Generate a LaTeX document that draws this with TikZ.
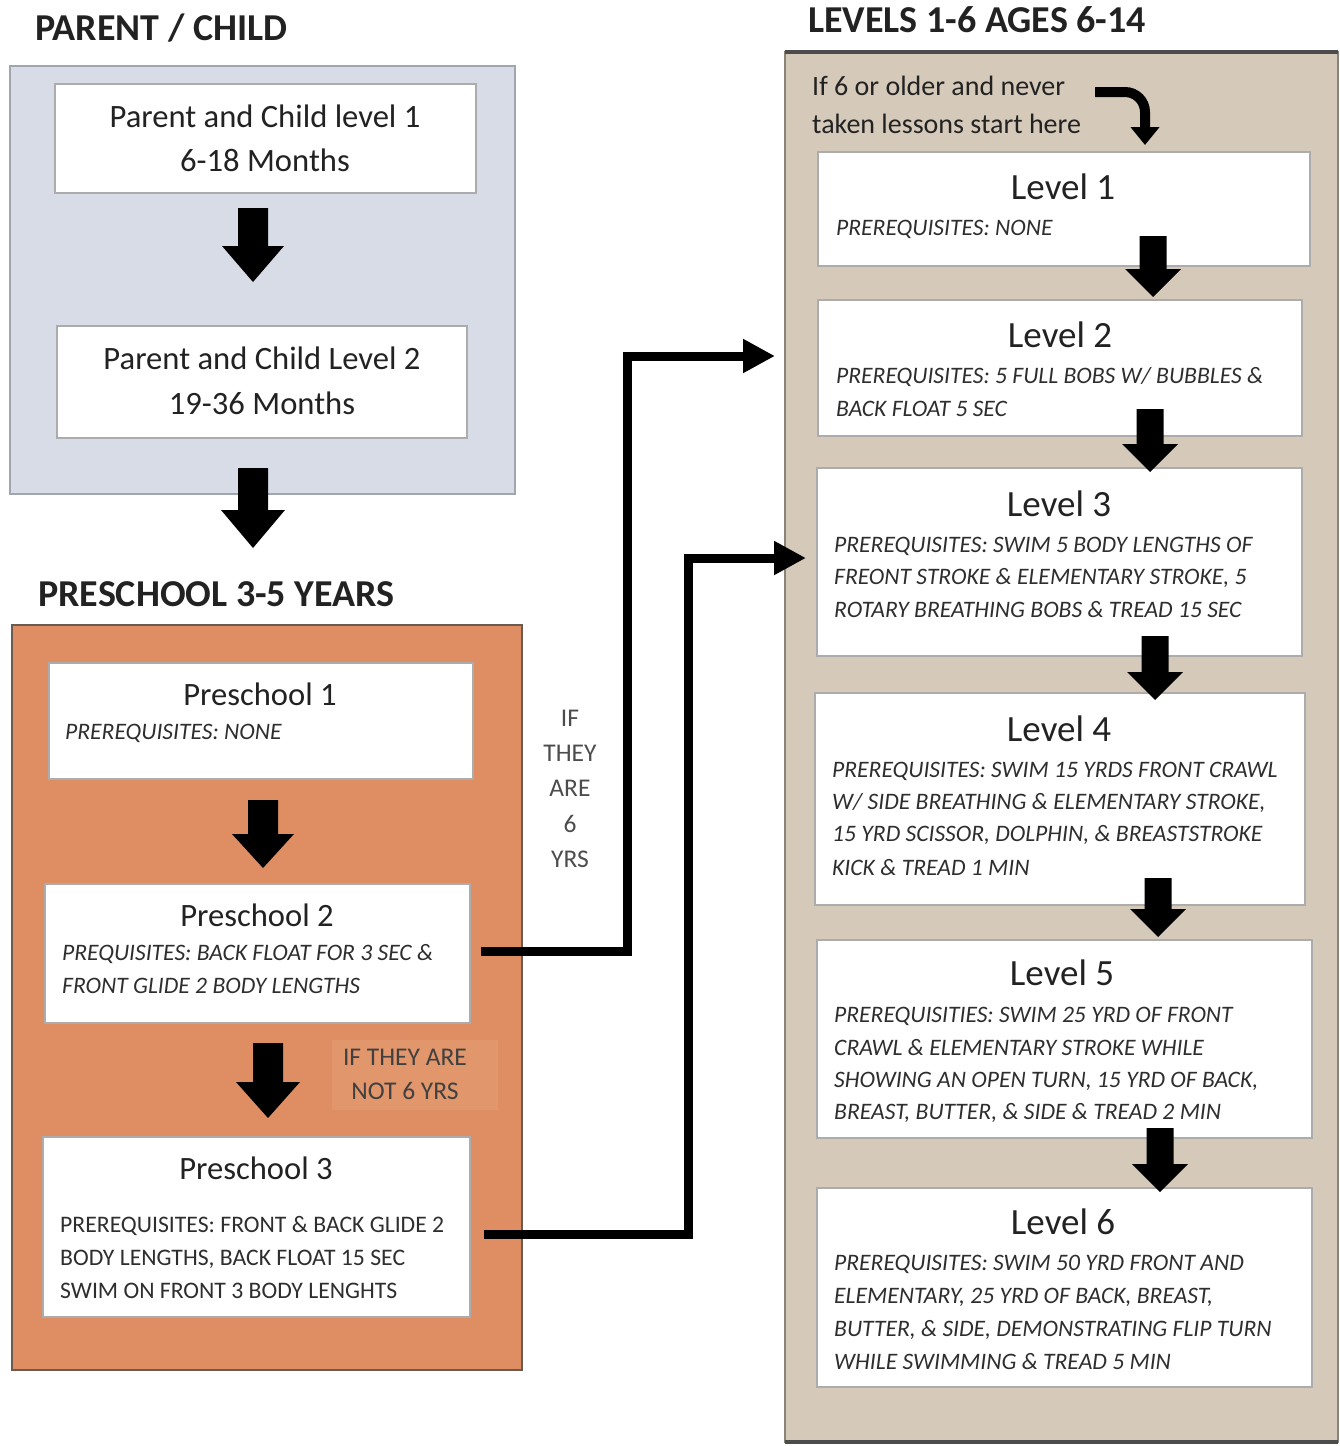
\documentclass[tikz,border=0pt]{standalone}
\usepackage{fontspec}
\setmainfont{Carlito}
\usetikzlibrary{arrows.meta}
\definecolor{pcfill}{HTML}{D8DCE6}
\definecolor{pcdraw}{HTML}{A0A5AF}
\definecolor{psfill}{HTML}{DE8E62}
\definecolor{pslight}{HTML}{E2966B}
\definecolor{psdraw}{HTML}{6B5A50}
\definecolor{lvfill}{HTML}{D5CABA}
\definecolor{lvdraw}{HTML}{8A8478}
\definecolor{txt}{HTML}{222222}
\definecolor{pretxt}{HTML}{2E2E2E}
\newcommand{\blockdown}[6]{%
  \fill[black] (#1-#4/2,#2) -- (#1+#4/2,#2) -- (#1+#4/2,#3-#6) -- (#1+#5/2,#3-#6)
    -- (#1,#3) -- (#1-#5/2,#3-#6) -- (#1-#4/2,#3-#6) -- cycle;}
\begin{document}
\begin{tikzpicture}[x=1pt,y=-1pt,
  wbox/.style={draw=gray!65, fill=white, line width=1.2pt, inner sep=0pt, rectangle},
  titletxt/.style={anchor=west, font=\fontsize{38}{42}\selectfont\bfseries, text=txt, inner sep=0pt},
  headtxt/.style={font=\fontsize{32.6}{36}\selectfont, text=txt, inner sep=0pt},
  lvhead/.style={font=\fontsize{37}{40}\selectfont, text=txt, inner sep=0pt},
  pretxt/.style={anchor=west, font=\fontsize{23.6}{26}\selectfont\itshape, text=pretxt, inner sep=0pt},
  regtxt/.style={anchor=west, font=\fontsize{23.7}{26}\selectfont, text=pretxt, inner sep=0pt},
  conn/.style={line width=9pt, -{Triangle[length=32pt,width=32pt]}},
  lbl/.style={font=\fontsize{25.5}{28}\selectfont, text=black!70, inner sep=0pt}
]
\useasboundingbox (0,0) rectangle (1340,1446);
\fill[white] (0,0) rectangle (1340,1446);

% ---------- group backgrounds ----------
\node[titletxt] (tpc) at (35,28) {PARENT / CHILD};
\draw[pcdraw, fill=pcfill, line width=1.5pt] (10,66) rectangle (515,494);
\node[titletxt] (tps) at (38,594) {PRESCHOOL 3-5 YEARS};
\draw[psdraw, fill=psfill, line width=2pt] (12,625) rectangle (522,1370);
\fill[pslight] (332,1040) rectangle (498,1110);
\node[titletxt] (tlv) at (808,20) {LEVELS 1-6 AGES 6-14};
\draw[lvdraw, fill=lvfill, line width=2pt] (785,52) rectangle (1338,1442);
\draw[black!70, line width=4pt] (785,52) -- (1338,52);
\draw[black!70, line width=4pt] (785,1442) -- (1338,1442);

% ---------- Parent / Child ----------
\node[wbox, minimum width=421pt, minimum height=109pt] (pc1) at (265.5,138.5) {};
\node[headtxt] (pc1a) at (265,116) {Parent and Child level 1};
\node[headtxt] (pc1b) at (265,160) {6-18 Months};
\node[wbox, minimum width=410pt, minimum height=112pt] (pc2) at (262,382) {};
\node[headtxt] (pc2a) at (262,358) {Parent and Child Level 2};
\node[headtxt] (pc2b) at (262,403) {19-36 Months};
\blockdown{253}{208}{282}{30}{62}{36}
\blockdown{253}{468}{548}{30}{64}{38}

% ---------- Preschool ----------
\node[wbox, minimum width=424pt, minimum height=116pt] (ps1) at (261,721) {};
\node[headtxt] (ps1h) at (260,694) {Preschool 1};
\node[pretxt] (ps1p) at (65,733) {PREREQUISITES: NONE};

\node[wbox, minimum width=425pt, minimum height=139pt] (ps2) at (257.5,953.5) {};
\node[headtxt] (ps2h) at (257,915) {Preschool 2};
\node[pretxt] (ps2p1) at (62,954) {PREQUISITES: BACK FLOAT FOR 3 SEC \&};
\node[pretxt] (ps2p2) at (62,986) {FRONT GLIDE 2 BODY LENGTHS};

\node[wbox, minimum width=427pt, minimum height=180pt] (ps3) at (256.5,1227) {};
\node[headtxt] (ps3h) at (256,1168) {Preschool 3};
\node[regtxt] (ps3p1) at (60,1226) {PREREQUISITES: FRONT \& BACK GLIDE 2};
\node[regtxt] (ps3p2) at (60,1259) {BODY LENGTHS, BACK FLOAT 15 SEC};
\node[regtxt] (ps3p3) at (60,1291) {SWIM ON FRONT 3 BODY LENGHTS};

\blockdown{263}{800}{868}{30}{62}{34}
\blockdown{268}{1043}{1118}{30}{64}{36}
\node[lbl, text=black!75] (not6a) at (405,1057) {IF THEY ARE};
\node[lbl, text=black!75] (not6b) at (405,1091) {NOT 6 YRS};

% ---------- Levels ----------
\node[regtxt, font=\fontsize{28}{30}\selectfont, text=txt] (start1) at (812,86) {If 6 or older and never};
\node[regtxt, font=\fontsize{28}{30}\selectfont, text=txt] (start2) at (812,124) {taken lessons start here};

\node[wbox, minimum width=492pt, minimum height=114pt] (l1) at (1064,209) {};
\node[lvhead] (l1h) at (1063,187) {Level 1};
\node[pretxt] (l1p) at (836,229) {PREREQUISITES: NONE};

\node[wbox, minimum width=484pt, minimum height=136pt] (l2) at (1060,368) {};
\node[lvhead] (l2h) at (1060,335) {Level 2};
\node[pretxt] (l2p1) at (836,377) {PREREQUISITES: 5 FULL BOBS W/ BUBBLES \&};
\node[pretxt] (l2p2) at (836,409) {BACK FLOAT 5 SEC};

\node[wbox, minimum width=485pt, minimum height=188pt] (l3) at (1059.5,562) {};
\node[lvhead] (l3h) at (1059,504) {Level 3};
\node[pretxt] (l3p1) at (834,546) {PREREQUISITES: SWIM 5 BODY LENGTHS OF};
\node[pretxt] (l3p2) at (834,578) {FREONT STROKE \& ELEMENTARY STROKE, 5};
\node[pretxt] (l3p3) at (834,610) {ROTARY BREATHING BOBS \& TREAD 15 SEC};

\node[wbox, minimum width=490pt, minimum height=212pt] (l4) at (1060,799) {};
\node[lvhead] (l4h) at (1059,729) {Level 4};
\node[pretxt] (l4p1) at (832,771) {PREREQUISITES: SWIM 15 YRDS FRONT CRAWL};
\node[pretxt] (l4p2) at (832,803) {W/ SIDE BREATHING \& ELEMENTARY STROKE,};
\node[pretxt] (l4p3) at (832,835) {15 YRD SCISSOR, DOLPHIN, \& BREASTSTROKE};
\node[pretxt] (l4p4) at (832,868) {KICK \& TREAD 1 MIN};

\node[wbox, minimum width=495pt, minimum height=198pt] (l5) at (1064.5,1039) {};
\node[lvhead] (l5h) at (1062,973) {Level 5};
\node[pretxt] (l5p1) at (834,1016) {PREREQUISITIES: SWIM 25 YRD OF FRONT};
\node[pretxt] (l5p2) at (834,1048) {CRAWL \& ELEMENTARY STROKE WHILE};
\node[pretxt] (l5p3) at (834,1081) {SHOWING AN OPEN TURN, 15 YRD OF BACK,};
\node[pretxt] (l5p4) at (834,1113) {BREAST, BUTTER, \& SIDE \& TREAD 2 MIN};

\node[wbox, minimum width=495pt, minimum height=199pt] (l6) at (1064.5,1287.5) {};
\node[lvhead] (l6h) at (1063,1222) {Level 6};
\node[pretxt] (l6p1) at (834,1264) {PREREQUISITES: SWIM 50 YRD FRONT AND};
\node[pretxt] (l6p2) at (834,1297) {ELEMENTARY, 25 YRD OF BACK, BREAST,};
\node[pretxt] (l6p3) at (834,1330) {BUTTER, \& SIDE, DEMONSTRATING FLIP TURN};
\node[pretxt] (l6p4) at (834,1362) {WHILE SWIMMING \& TREAD 5 MIN};

\blockdown{1153}{236}{297}{27}{56}{28}
\blockdown{1150}{409}{472}{27}{56}{28}
\blockdown{1155}{636}{700}{27}{56}{28}
\blockdown{1158}{878}{937}{27}{56}{28}
\blockdown{1160}{1128}{1192}{27}{56}{28}

% start-here curved arrow
\coordinate (sA) at (1095,92);
\coordinate (sB) at (1145,92);
\coordinate (sC) at (1145,145);
\draw[line width=10pt, rounded corners=20pt, -{Triangle[length=18pt,width=28pt]}] (sA) -- (sB) -- (sC);

% ---------- cross connectors ----------
\coordinate (c2s) at (481,951);
\coordinate (c2m) at (627,951);
\coordinate (c2e) at (775,356);
\draw[conn] (c2s) -- (c2m) |- (c2e);
\coordinate (c3s) at (484,1234);
\coordinate (c3m) at (688,1234);
\coordinate (c3e) at (806,558);
\draw[conn] (c3s) -- (c3m) |- (c3e);

\node[lbl] (six1) at (570,718) {IF};
\node[lbl] (six2) at (570,753) {THEY};
\node[lbl] (six3) at (570,788) {ARE};
\node[lbl] (six4) at (570,824) {6};
\node[lbl] (six5) at (570,859) {YRS};
\end{tikzpicture}
\end{document}
